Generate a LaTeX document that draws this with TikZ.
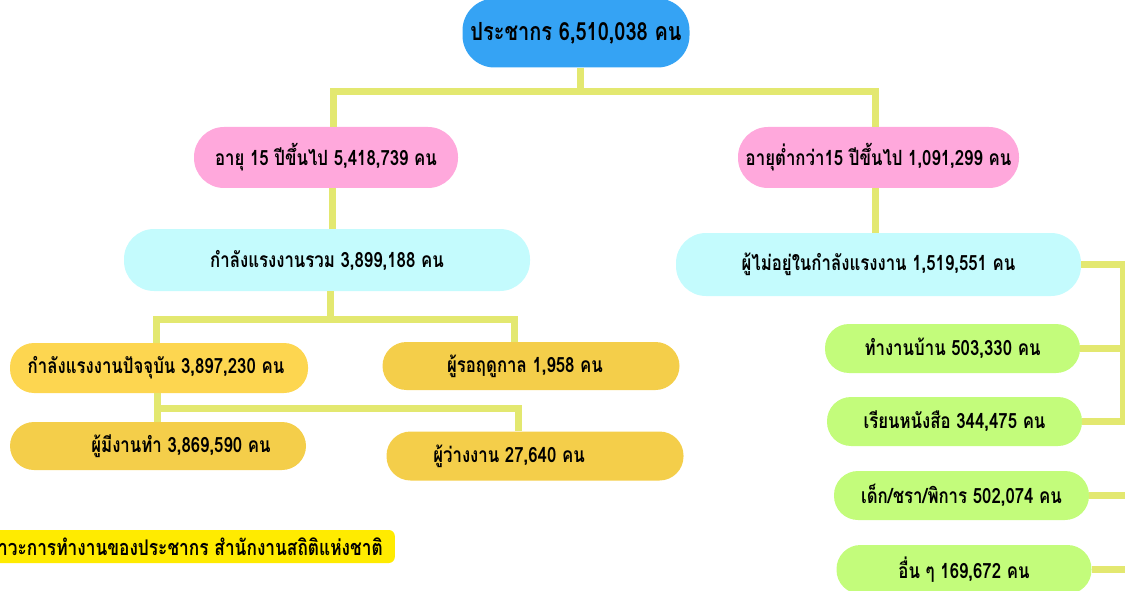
\documentclass[tikz,border=0pt]{standalone}
\usepackage{fontspec}
\newfontfamily\thaifont[Script=Thai,FakeStretch=0.8]{Loma}
\usetikzlibrary{positioning}
\definecolor{popblue}{RGB}{53,163,244}
\definecolor{agepink}{RGB}{255,168,220}
\definecolor{lfcyan}{RGB}{196,251,253}
\definecolor{nowyellow}{RGB}{253,214,80}
\definecolor{workyellow}{RGB}{244,206,74}
\definecolor{restgreen}{RGB}{195,252,123}
\definecolor{linkyellow}{RGB}{227,232,112}
\definecolor{notebright}{RGB}{255,235,0}

\begin{document}
\begin{tikzpicture}[x=1pt,y=-1pt,
  pill/.style={rounded corners=24pt, inner sep=0pt, text=black,
    font=\thaifont\bfseries\fontsize{21}{24}\selectfont},
  txt/.style={text=black, inner sep=0pt, font=\thaifont\bfseries\fontsize{21}{24}\selectfont},
  link/.style={draw=linkyellow, line width=7pt}]
\useasboundingbox (0,0) rectangle (1125,591);
\clip (0,0) rectangle (1125,591);

% Population
\node[pill, fill=popblue, rounded corners=32pt, minimum width=227pt, minimum height=69pt,
  font=\thaifont\bfseries\fontsize{25}{28}\selectfont] (pop) at (576,33) {ประชากร 6,510,038 คน};

% Age groups
\node[pill, fill=agepink, rounded corners=30pt, minimum width=264pt, minimum height=61pt] (age15) at (326,157.5) {อายุ 15 ปีขึ้นไป 5,418,739 คน};
\node[pill, fill=agepink, rounded corners=30pt, minimum width=281pt, minimum height=61pt] (under15) at (878.5,157.5) {อายุต่ำกว่า15 ปีขึ้นไป 1,091,299 คน};

% Labour force / outside
\node[pill, fill=lfcyan, rounded corners=30pt, minimum width=406pt, minimum height=62pt] (labour) at (327,260) {กำลังแรงงานรวม 3,899,188 คน};
\node[pill, fill=lfcyan, rounded corners=30pt, minimum width=405pt, minimum height=63pt] (outlf) at (878.5,264.5) {ผู้ไม่อยู่ในกำลังแรงงาน 1,519,551 คน};

% Labour force branches
\node[pill, fill=nowyellow, minimum width=298pt, minimum height=50pt] (current) at (159,368) {};
\node[txt] at ([xshift=-3pt]current.center) {กำลังแรงงานปัจจุบัน 3,897,230 คน};
\node[pill, fill=workyellow, minimum width=297pt, minimum height=48pt] (seasonal) at (531,366) {};
\node[txt] at ([xshift=-6pt]seasonal.center) {ผู้รอฤดูกาล 1,958 คน};
\node[pill, fill=workyellow, minimum width=296pt, minimum height=48pt] (employed) at (158,446) {};
\node[txt] at ([xshift=23pt]employed.center) {ผู้มีงานทำ 3,869,590 คน};
\node[pill, fill=workyellow, minimum width=297pt, minimum height=49pt] (jobless) at (535,456) {};
\node[txt] at ([xshift=-26pt]jobless.center) {ผู้ว่างงาน 27,640 คน};

% Outside labour force
\node[pill, fill=restgreen, minimum width=255pt, minimum height=49pt] (house) at (952.5,348.5) {ทำงานบ้าน 503,330 คน};
\node[pill, fill=restgreen, minimum width=255pt, minimum height=49pt] (study) at (954.5,421.5) {เรียนหนังสือ 344,475 คน};
\node[pill, fill=restgreen, minimum width=255pt, minimum height=49pt] (frail) at (961.5,495.5) {เด็ก/ชรา/พิการ 502,074 คน};
\node[pill, fill=restgreen, minimum width=255pt, minimum height=49pt] (other) at (964,569.5) {อื่น ๆ 169,672 คน};

% Source
\node[fill=notebright, rounded corners=6pt, minimum height=33pt, inner xsep=12pt, anchor=east,
  font=\thaifont\bfseries\fontsize{21.6}{24}\selectfont] (source) at (395,546.5) {ภาวะการทำงานของประชากร สำนักงานสถิติแห่งชาติ};

% Connectors
\coordinate (topbar) at (580,92);
\coordinate (lfbar) at (330,319);
\coordinate (nowbar) at (157,408);
\coordinate (rail) at (1123,0);
\coordinate (offpage) at (1135,0);
\draw[link] (pop.south -| topbar) -- (topbar);
\draw[link] ([xshift=7pt]age15.north) |- (topbar) -| ([xshift=-3pt]under15.north);
\draw[link] ([xshift=6pt]age15.south) -- ([xshift=5pt]labour.north);
\draw[link] ([xshift=-3pt]under15.south) -- ([xshift=-3pt]outlf.north);
\draw[link] (labour.south -| lfbar) -- (lfbar);
\draw[link] ([xshift=-3pt]current.north) |- (lfbar) -| ([xshift=-17pt]seasonal.north);
\draw[link] ([xshift=-2pt]current.south) -- ([xshift=-1pt]employed.north);
\draw[link] (nowbar) -| ([xshift=-17pt]jobless.north);
\draw[link] (outlf.east) -| (rail |- study.east) -- (study.east);
\draw[link] (house.east) -- (house.east -| rail);
\draw[link] (frail.east) -- (frail.east -| offpage);
\draw[link] (other.east) -- (other.east -| offpage);
\end{tikzpicture}
\end{document}
